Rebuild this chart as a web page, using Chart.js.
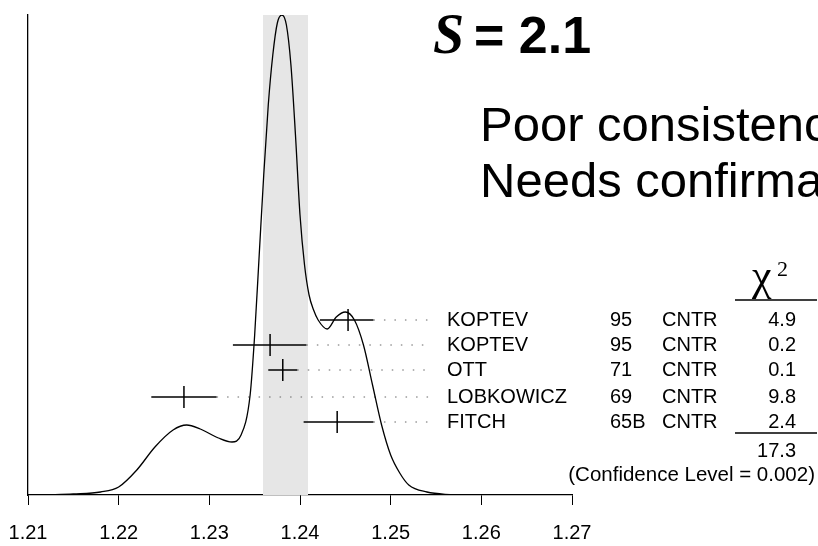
<!DOCTYPE html>
<html>
<head>
<script src="https://cdn.jsdelivr.net/npm/chart.js@4"></script>
<style>
  body { margin: 0; background: #fff; }
  #wrap { width: 818px; height: 546px; }
</style>
</head>
<body>
<div id="wrap"><canvas id="c"></canvas></div>
<script>
// ideogram curve (x value, height)
const curveX = [1.212, 1.215, 1.218, 1.220, 1.222, 1.224, 1.226, 1.2275, 1.229, 1.231, 1.2325, 1.2335, 1.2345, 1.235, 1.2355, 1.236, 1.2365, 1.237, 1.2375, 1.238, 1.2385, 1.239, 1.2395, 1.240, 1.2405, 1.241, 1.2415, 1.242, 1.243, 1.244, 1.245, 1.246, 1.247, 1.248, 1.249, 1.250, 1.251, 1.252, 1.254, 1.257];
const curveY = [0, 1, 3, 8, 25, 48, 65, 70, 66, 57, 53, 60, 100, 160, 240, 320, 390, 440, 472, 480, 470, 430, 360, 280, 230, 200, 185, 175, 166, 178, 183, 175, 150, 110, 70, 40, 22, 10, 3, 0];

const bandRange = [1.2359, 1.2409];

const names = ["KOPTEV", "KOPTEV", "OTT", "LOBKOWICZ", "FITCH"];
const years = ["95", "95", "71", "69", "65B"];
const techs = ["CNTR", "CNTR", "CNTR", "CNTR", "CNTR"];
const chi2 = ["4.9", "0.2", "0.1", "9.8", "2.4"];
const centers = [1.2453, 1.2367, 1.2381, 1.2272, 1.2441];
const lows = [1.2422, 1.2326, 1.2365, 1.2236, 1.2404];
const highs = [1.2481, 1.2407, 1.2397, 1.2308, 1.2481];
const rowY = [175, 150, 125, 98, 73];

const chi2Total = "17.3";
const confLevel = "(Confidence Level = 0.002)";
const xTicks = [1.21, 1.22, 1.23, 1.24, 1.25, 1.26, 1.27];

const dotEnd = 1.2543;
const datasets = [];

datasets.push({
  type: 'line', order: 10,
  data: [{ x: bandRange[0], y: 480 }, { x: bandRange[1], y: 480 }],
  borderWidth: 0, pointRadius: 0, fill: 'origin',
  backgroundColor: '#e6e6e6'
});
datasets.push({
  type: 'line', order: 1,
  data: curveX.map((x, i) => ({ x: x, y: curveY[i] })),
  borderColor: '#000', borderWidth: 1.3, pointRadius: 0,
  cubicInterpolationMode: 'monotone', fill: false
});
names.forEach((n, i) => {
  datasets.push({
    type: 'line', order: 1,
    data: [{ x: lows[i], y: rowY[i] }, { x: highs[i], y: rowY[i] }],
    borderColor: '#000', borderWidth: 1.5, pointRadius: 0
  });
  datasets.push({
    type: 'line', order: 1,
    data: [{ x: centers[i], y: rowY[i] - 11 }, { x: centers[i], y: rowY[i] + 11 }],
    borderColor: '#000', borderWidth: 1.5, pointRadius: 0
  });
  datasets.push({
    type: 'line', order: 1,
    data: [{ x: highs[i], y: rowY[i] }, { x: dotEnd, y: rowY[i] }],
    borderColor: '#666', borderWidth: 1, borderDash: [1.5, 9], pointRadius: 0
  });
});

const textPlugin = {
  id: 'texts',
  afterDraw(chart) {
    const ctx = chart.ctx;
    const ys = chart.scales.y;
    ctx.save();
    ctx.fillStyle = '#000';
    ctx.textBaseline = 'middle';
    ctx.font = '20px "Liberation Sans", Arial, sans-serif';
    names.forEach((n, i) => {
      const y = ys.getPixelForValue(rowY[i]);
      ctx.textAlign = 'left';
      ctx.fillText(n, 447, y);
      ctx.fillText(years[i], 610, y);
      ctx.fillText(techs[i], 662, y);
      ctx.textAlign = 'right';
      ctx.fillText(chi2[i], 796, y);
    });
    ctx.textAlign = 'right';
    ctx.fillText(chi2Total, 796, 451);
    ctx.font = '20.5px "Liberation Sans", Arial, sans-serif';
    ctx.fillText(confLevel, 815, 475);
    ctx.lineWidth = 1.3;
    ctx.beginPath();
    ctx.moveTo(735, 300); ctx.lineTo(817, 300);
    ctx.moveTo(735, 433); ctx.lineTo(817, 433);
    ctx.stroke();
    // chi^2 header
    ctx.textAlign = 'left';
    ctx.textBaseline = 'alphabetic';
    ctx.font = '44px "Liberation Serif", "DejaVu Serif", serif';
    ctx.fillText('\u03C7', 752, 290);
    ctx.font = '22px "Liberation Serif", serif';
    ctx.fillText('2', 777, 276);
    // title
    ctx.font = 'italic bold 56px "Liberation Serif", serif';
    ctx.fillText('S', 433, 53);
    ctx.font = 'bold 52px "Liberation Sans", Arial, sans-serif';
    ctx.fillText('= 2.1', 474, 53);
    ctx.font = '49px "Liberation Sans", Arial, sans-serif';
    ctx.fillText('Poor consistency', 480, 141);
    ctx.fillText('Needs confirmation', 480, 197);
    ctx.restore();
  }
};

new Chart(document.getElementById('c'), {
  type: 'scatter',
  data: { datasets: datasets },
  options: {
    responsive: true, maintainAspectRatio: false, animation: false,
    layout: { padding: { left: 28, right: 246, top: 15, bottom: 0 } },
    plugins: { legend: { display: false }, tooltip: { enabled: false } },
    scales: {
      x: {
        type: 'linear', min: 1.21, max: 1.27,
        afterBuildTicks: axis => { axis.ticks = xTicks.map(v => ({ value: v })); },
        afterFit: s => { s.paddingLeft = 0; s.paddingRight = 0; s.height = 51; },
        ticks: {
          color: '#000', padding: 16,
          font: { size: 20, family: '"Liberation Sans", Arial, sans-serif' },
          callback: v => v.toFixed(2)
        },
        grid: { drawOnChartArea: false, color: '#000', tickLength: 10 },
        border: { color: '#000', width: 1.3 }
      },
      y: {
        min: 0, max: 480,
        afterFit: s => { s.width = 0; },
        ticks: { display: false },
        grid: { display: false },
        border: { color: '#000', width: 1.3 }
      }
    }
  },
  plugins: [textPlugin]
});
</script>
</body>
</html>
